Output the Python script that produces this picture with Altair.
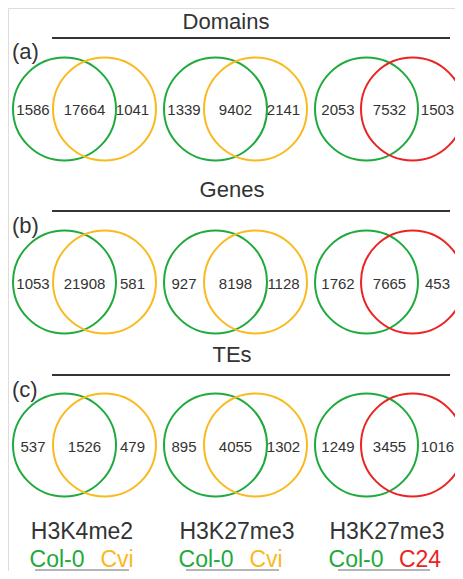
import altair as alt
import pandas as pd

# ---- data ----
row_titles = ["Domains", "Genes", "TEs"]
row_tags = ["(a)", "(b)", "(c)"]
left_only = [[1586, 1339, 2053], [1053, 927, 1762], [537, 895, 1249]]
shared = [[17664, 9402, 7532], [21908, 8198, 7665], [1526, 4055, 3455]]
right_only = [[1041, 2141, 1503], [581, 1128, 453], [479, 1302, 1016]]
marks = ["H3K4me2", "H3K27me3", "H3K27me3"]
set_a = ["Col-0", "Col-0", "Col-0"]
set_b = ["Cvi", "Cvi", "C24"]

# ---- style / layout ----
GREEN = "#1eaa3c"
ORANGE = "#fab91e"
RED = "#eb2323"
TXT = "#333333"
FONT = "Liberation Sans"
col_b = [ORANGE, ORANGE, RED]

R = 51.5
panel_cx = [64.5, 215.5, 366.5]
panel_sep = [40, 40, 46]
row_cy = [109, 282, 445]
num_y = [110, 284, 447]
title_base = [29, 197, 362]
title_x = [226, 232, 232]
line_y = [38, 211, 375]
tag_y = [52, 226, 390]

circles, nums, titles, lines, tags = [], [], [], [], []
for r in range(3):
    titles.append({"x": title_x[r], "y": title_base[r], "t": row_titles[r]})
    lines.append({"x": 52, "x2": 450, "y": line_y[r]})
    tags.append({"x": 12, "y": tag_y[r], "t": row_tags[r]})
    for p in range(3):
        cl = panel_cx[p]
        cr = cl + panel_sep[p]
        circles.append({"x": cl, "y": row_cy[r], "c": GREEN, "o": 0})
        circles.append({"x": cr, "y": row_cy[r], "c": col_b[p], "o": 1})
        nums.append({"x": cl - R + panel_sep[p] / 2, "y": num_y[r], "t": str(left_only[r][p])})
        nums.append({"x": (cl + cr) / 2, "y": num_y[r], "t": str(shared[r][p])})
        nums.append({"x": cr + R - panel_sep[p] / 2 - 3.5, "y": num_y[r], "t": str(right_only[r][p])})

mark_x = [82, 237, 387]
a_x = [57, 206, 356]
b_x = [117, 266, 420]
bottom = []
for p in range(3):
    bottom.append({"x": mark_x[p], "y": 532, "t": marks[p], "c": TXT})
    bottom.append({"x": a_x[p], "y": 560, "t": set_a[p], "c": GREEN})
    bottom.append({"x": b_x[p], "y": 560, "t": set_b[p], "c": col_b[p]})
gray = [{"x": 35, "x2": 129, "y": 570}, {"x": 186, "x2": 279, "y": 570}, {"x": 338, "x2": 430, "y": 570}]

xs = alt.Scale(domain=[8, 455], range=[0, 447], zero=False, nice=False)
ys = alt.Scale(domain=[8, 571], range=[0, 563], zero=False, nice=False)


def X(f="x"):
    return alt.X(f, type="quantitative", scale=xs, axis=None)


def Y(f="y"):
    return alt.Y(f, type="quantitative", scale=ys, axis=None)


circ = alt.Chart(pd.DataFrame(circles)).mark_point(
    shape="circle", filled=False, strokeWidth=2, size=(2 * R) ** 2, opacity=1
).encode(x=X(), y=Y(), color=alt.Color("c:N", scale=None), order="o:Q")

num = alt.Chart(pd.DataFrame(nums)).mark_text(
    font=FONT, fontSize=15, color=TXT, baseline="middle", align="center"
).encode(x=X(), y=Y(), text="t:N")

ttl = alt.Chart(pd.DataFrame(titles)).mark_text(
    font=FONT, fontSize=22, color=TXT, baseline="alphabetic", align="center"
).encode(x=X(), y=Y(), text="t:N")

tg = alt.Chart(pd.DataFrame(tags)).mark_text(
    font=FONT, fontSize=22, color=TXT, baseline="middle", align="left"
).encode(x=X(), y=Y(), text="t:N")

ln = alt.Chart(pd.DataFrame(lines)).mark_rule(strokeWidth=2.2, color="#333333").encode(
    x=X(), x2="x2", y=Y()
)

gl = alt.Chart(pd.DataFrame(gray)).mark_rule(strokeWidth=2, color="#b5b5b5").encode(
    x=X(), x2="x2", y=Y()
)

bt = alt.Chart(pd.DataFrame(bottom)).mark_text(
    font=FONT, fontSize=23, baseline="middle", align="center"
).encode(x=X(), y=Y(), text="t:N", color=alt.Color("c:N", scale=None))

chart = alt.layer(ln, gl, circ, num, ttl, tg, bt).properties(
    width=447, height=563, padding=0, autosize=alt.AutoSizeParams(type="none")
).configure_view(stroke=None).configure(background="white")

chart.save("out.html", embed_options={"renderer": "svg", "actions": False})
